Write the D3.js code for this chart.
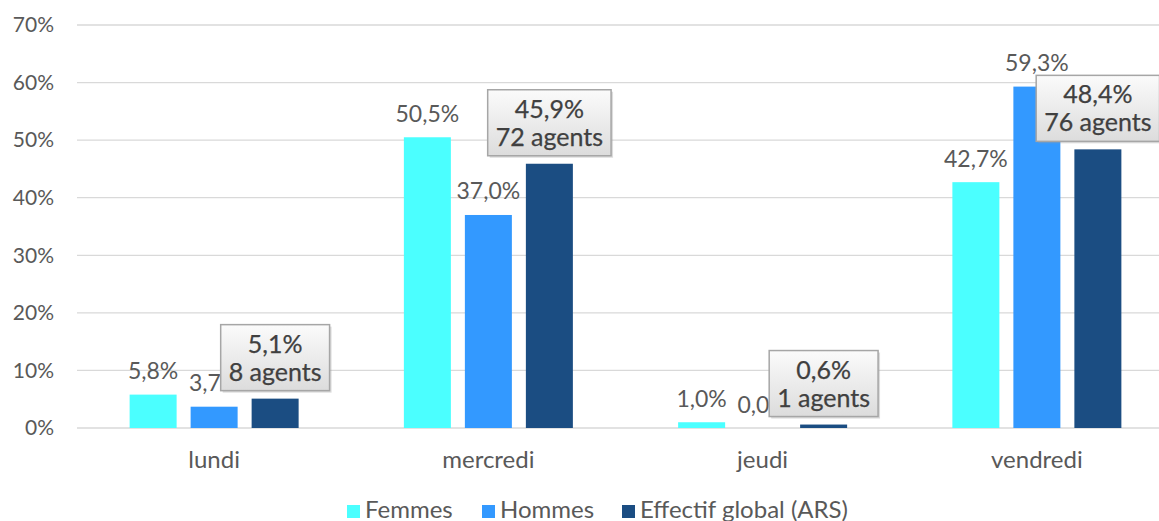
<!DOCTYPE html>
<html><head><meta charset="utf-8">
<script src="https://cdn.jsdelivr.net/npm/d3@7"></script>
<style>body{margin:0;background:#fff}svg{display:block}</style>
</head><body>
<svg id="c" width="1159" height="521"></svg>
<script>
const categories = ["lundi", "mercredi", "jeudi", "vendredi"];
const seriesNames = ["Femmes", "Hommes", "Effectif global (ARS)"];
const femmes = [5.8, 50.5, 1.0, 42.7];
const hommes = [3.7, 37.0, 0.0, 59.3];
const effectif = [5.1, 45.9, 0.6, 48.4];
const agents = [8, 72, 1, 76];
const yTicks = [0, 10, 20, 30, 40, 50, 60, 70];
const colors = ["#4BFFFF", "#3399FF", "#1B4D82"];

const svg = d3.select("#c");
const font = "Lato, 'Open Sans', sans-serif";
const x0 = d3.scaleBand().domain(categories).range([77, 1174]).paddingInner(0).paddingOuter(0);
const y = d3.scaleLinear().domain([0, 70]).range([428, 25]);
const barW = 47, step = 61;

const defs = svg.append("defs");
const g = defs.append("linearGradient").attr("id","boxg").attr("x1",0).attr("y1",0).attr("x2",0).attr("y2",1);
g.append("stop").attr("offset","0%").attr("stop-color","#fbfbfb");
g.append("stop").attr("offset","100%").attr("stop-color","#dcdcdc");

// gridlines + y labels
svg.append("g").selectAll("line").data(yTicks).join("line")
  .attr("x1", 77).attr("x2", 1159).attr("y1", d => y(d)).attr("y2", d => y(d))
  .attr("stroke", "#d9d9d9").attr("stroke-width", 1.3);
svg.append("g").selectAll("text").data(yTicks).join("text")
  .attr("x", 54).attr("y", d => y(d)).attr("dy", "0.35em").attr("text-anchor", "end")
  .attr("font-family", font).attr("font-size", 21).attr("fill", "#595959")
  .text(d => d + "%");

const series = [femmes, hommes, effectif];
const fmt = v => v.toFixed(1).replace(".", ",") + "%";

// bars
series.forEach((vals, si) => {
  svg.append("g").selectAll("rect").data(categories).join("rect")
    .attr("x", (c) => x0(c) + x0.bandwidth()/2 + (si - 1) * step - barW/2)
    .attr("y", (c, i) => y(vals[i]))
    .attr("width", barW)
    .attr("height", (c, i) => y(0) - y(vals[i]))
    .attr("fill", colors[si]);
});

// labels for first two series
[0, 1].forEach(si => {
  svg.append("g").selectAll("text").data(categories).join("text")
    .attr("x", c => x0(c) + x0.bandwidth()/2 + (si - 1) * step)
    .attr("y", (c, i) => y(series[si][i]) - 15.5)
    .attr("text-anchor", "middle")
    .attr("font-family", font).attr("font-size", 23).attr("fill", "#595959")
    .text((c, i) => fmt(series[si][i]));
});

// boxed labels for effectif
const boxG = svg.append("g");
categories.forEach((c, i) => {
  const cx = x0(c) + x0.bandwidth()/2 + step;
  const bottom = y(effectif[i]) - 8;
  const h = 66;
  const gg = boxG.append("g");
  const shadow = gg.append("rect");
  const box = gg.append("rect");
  const t1 = gg.append("text").attr("x", cx).attr("y", bottom - h + 28).attr("text-anchor", "middle")
    .attr("font-family", font).attr("font-size", 25).attr("fill", "#404040")
    .attr("stroke", "#404040").attr("stroke-width", 0.25)
    .text(fmt(effectif[i]));
  const t2 = gg.append("text").attr("x", cx).attr("y", bottom - h + 56).attr("text-anchor", "middle")
    .attr("font-family", font).attr("font-size", 25).attr("fill", "#404040")
    .attr("stroke", "#404040").attr("stroke-width", 0.25)
    .text(agents[i] + " agents");
  const w = Math.max(t1.node().getComputedTextLength(), t2.node().getComputedTextLength()) + 16;
  shadow.attr("x", cx - w/2 + 2).attr("y", bottom - h + 2).attr("width", w).attr("height", h)
    .attr("fill", "#9a9a9a").attr("opacity", 0.35);
  box.attr("x", cx - w/2).attr("y", bottom - h).attr("width", w).attr("height", h)
    .attr("fill", "url(#boxg)").attr("stroke", "#a6a6a6").attr("stroke-width", 1.5);
});

// category labels
svg.append("g").selectAll("text").data(categories).join("text")
  .attr("x", c => x0(c) + x0.bandwidth()/2).attr("y", 468).attr("text-anchor", "middle")
  .attr("font-family", font).attr("font-size", 24).attr("fill", "#595959")
  .text(c => c);

// legend
const legX = [347, 482, 622];
const leg = svg.append("g");
seriesNames.forEach((n, i) => {
  leg.append("rect").attr("x", legX[i]).attr("y", 505).attr("width", 13).attr("height", 13).attr("fill", colors[i]);
  leg.append("text").attr("x", legX[i] + 18).attr("y", 518)
    .attr("font-family", font).attr("font-size", 24).attr("fill", "#595959").text(n);
});
</script>
</body></html>
